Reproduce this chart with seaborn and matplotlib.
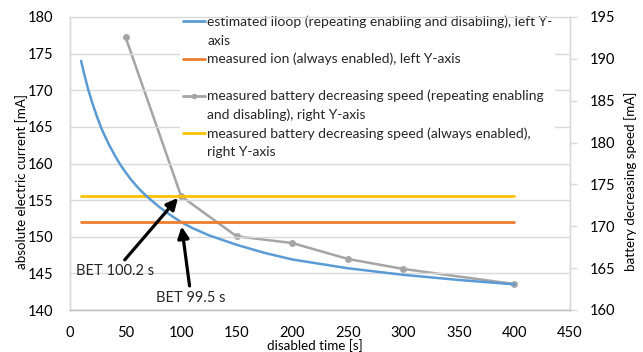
import matplotlib
matplotlib.use("Agg")
import matplotlib.pyplot as plt
from matplotlib.lines import Line2D
import seaborn as sns
import pandas as pd

# ---- data ----
iloop_time = [10, 12, 14, 16, 18, 20, 22, 25, 28, 30, 35, 40, 45, 50, 55, 60, 65, 70, 80, 90, 100,
              110, 125, 150, 175, 200, 225, 250, 300, 350, 400]
iloop_current = [174.0, 172.7, 171.5, 170.3, 169.3, 168.3, 167.4, 166.1, 164.9, 164.2, 162.6, 161.2,
                 159.9, 158.8, 157.8, 156.9, 156.1, 155.4, 154.1, 153.0, 152.0,
                 151.2, 150.2, 148.9, 147.8, 146.9, 146.3, 145.7, 144.8, 144.1, 143.5]
ion_time = [10, 400]
ion_current = [152.0, 152.0]
speed_time = [50, 100, 150, 200, 250, 300, 400]
speed_value = [192.6, 173.6, 168.8, 168.0, 166.1, 164.9, 163.1]
always_time = [10, 400]
always_value = [173.6, 173.6]

x_ticks = [0, 50, 100, 150, 200, 250, 300, 350, 400, 450]
left_ticks = [140, 145, 150, 155, 160, 165, 170, 175, 180]
right_ticks = [160, 165, 170, 175, 180, 185, 190, 195]

labels = [
    "estimated iloop (repeating enabling and disabling), left Y-\naxis",
    "measured ion (always enabled), left Y-axis",
    "measured battery decreasing speed (repeating enabling\nand disabling), right Y-axis",
    "measured battery decreasing speed (always enabled),\nright Y-axis",
]
annot_texts = ["BET 100.2 s", "BET 99.5 s"]
x_title = "disabled time [s]"
left_title = "absolute electric current [mA]"
right_title = "battery decreasing speed [mA]"

# ---- style ----
sns.set_theme(style="white")
plt.rcParams["font.family"] = ["Lato", "DejaVu Sans"]
BLUE, ORANGE, GRAY, YELLOW = "#5B9BD5", "#ED7D31", "#A5A5A5", "#FFC000"
GRID = "#D9D9D9"
TXT = "#000000"
W, H = 643, 352

fig = plt.figure(figsize=(W / 100, H / 100), dpi=100)
ax = fig.add_axes([70 / W, 1 - 310 / H, 500 / W, 293 / H])
ax2 = ax.twinx()

df_loop = pd.DataFrame({"t": iloop_time, "v": iloop_current})
df_ion = pd.DataFrame({"t": ion_time, "v": ion_current})
df_spd = pd.DataFrame({"t": speed_time, "v": speed_value})
df_alw = pd.DataFrame({"t": always_time, "v": always_value})

sns.lineplot(data=df_loop, x="t", y="v", ax=ax, color=BLUE, lw=1.8, zorder=3)
sns.lineplot(data=df_ion, x="t", y="v", ax=ax, color=ORANGE, lw=2.0, zorder=3)
sns.lineplot(data=df_spd, x="t", y="v", ax=ax2, color=GRAY, lw=1.8, marker="o",
             markersize=5, markeredgewidth=0, zorder=3)
sns.lineplot(data=df_alw, x="t", y="v", ax=ax2, color=YELLOW, lw=2.0, zorder=3)

ax.set_xlim(0, 450)
ax.set_ylim(140, 180)
ax2.set_ylim(160, 195)
ax.set_xticks(x_ticks)
ax.set_yticks(left_ticks)
ax2.set_yticks(right_ticks)

ax.yaxis.grid(True, color=GRID, lw=1.0)
ax.set_axisbelow(True)
ax.set_zorder(ax2.get_zorder() + 1)
ax.patch.set_visible(False)

for a in (ax, ax2):
    for s in a.spines.values():
        s.set_color(GRID)
        s.set_linewidth(1.0)
    a.spines["top"].set_visible(False)
ax.spines["top"].set_visible(True)
ax.spines["top"].set_zorder(2.6)
ax.spines["bottom"].set_color("#BFBFBF")

ax.tick_params(axis="x", length=0, pad=11.5, labelsize=10.5, colors=TXT)
ax.tick_params(axis="y", length=0, pad=12, labelsize=10.5, colors=TXT)
ax2.tick_params(axis="y", length=5, width=1, color=GRID, pad=9, labelsize=10.5, labelcolor=TXT)

ax.set_xlabel("")
ax.set_ylabel("")
ax2.set_ylabel("")
fig.text(315 / W, 1 - 339.5 / H, x_title, fontsize=9.6, ha="center", va="top", color=TXT)
fig.text(21.5 / W, 1 - 181.5 / H, left_title, fontsize=9.6, rotation=90,
         ha="center", va="center", color=TXT)
fig.text(630.5 / W, 1 - 181.5 / H, right_title, fontsize=9.6, rotation=90,
         ha="center", va="center", color=TXT)

# annotations
arrow = dict(arrowstyle="-|>,head_length=0.65,head_width=0.32", color="black", lw=2.3,
             shrinkA=1, shrinkB=0)
ax.annotate(annot_texts[0], xy=(97.2, 155.3), xytext=(40.5, 145.3), ha="center", va="center",
            fontsize=10.5, arrowprops=arrow, zorder=5)
ax.annotate(annot_texts[1], xy=(100.5, 151.4), xytext=(109, 141.7), ha="center", va="center",
            fontsize=10.5, arrowprops=arrow, zorder=5)

# legend: 8 rows, second lines of labels use invisible handles
blank = Line2D([], [], color="none")
h_blue = Line2D([], [], color=BLUE, lw=2)
h_or = Line2D([], [], color=ORANGE, lw=2)
h_gr = Line2D([], [], color=GRAY, lw=2, marker="o", markersize=4, markeredgewidth=0)
h_ye = Line2D([], [], color=YELLOW, lw=2)
handles, texts = [], []
for h, lab in zip([h_blue, h_or, h_gr, h_ye], labels):
    parts = lab.split("\n")
    handles.append(h)
    texts.append(parts[0])
    handles.append(blank)
    texts.append(parts[1] if len(parts) > 1 else " ")
leg = ax.legend(handles, texts, loc="upper left", bbox_to_anchor=(180 / W, 1 - 13 / H),
                bbox_transform=fig.transFigure, fontsize=10, frameon=True, framealpha=1,
                facecolor="white", edgecolor="none", fancybox=False, handlelength=1.6,
                handletextpad=0.15, labelspacing=0.45, borderpad=0.2, borderaxespad=0)
leg.set_zorder(2.4)

fig.savefig("out.png", dpi=100)
